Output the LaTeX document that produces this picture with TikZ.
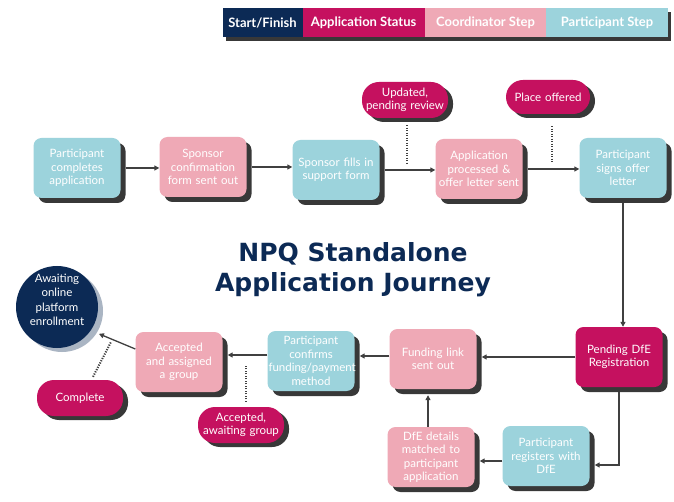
\documentclass[tikz,border=0pt]{standalone}
\usepackage{fontspec}
\setmainfont{Lato}
\newfontfamily\titlefont{DejaVu Sans}
\usetikzlibrary{arrows.meta,shadows,calc}
\definecolor{navy}{HTML}{0C2A55}
\definecolor{mag}{HTML}{C5115F}
\definecolor{pinkc}{HTML}{EFA9B6}
\definecolor{bluec}{HTML}{9CD3DC}
\definecolor{shadowc}{HTML}{383838}
\definecolor{circsh}{HTML}{AAB5C3}
\definecolor{linec}{HTML}{404040}
\begin{document}
\begin{tikzpicture}[x=1pt,y=-1pt,
  box/.style={rounded corners=8pt, minimum width=87pt, minimum height=60pt, text width=85pt,
    align=center, text=white, font=\fontsize{11.5}{13.5}\selectfont, inner sep=0pt,
    drop shadow={shadow xshift=5pt, shadow yshift=-5pt, fill=shadowc, opacity=1}},
  pblue/.style={box, fill=bluec},
  ppink/.style={box, fill=pinkc},
  pmag/.style={box, fill=mag},
  pill/.style={rounded corners=17pt, fill=mag, minimum width=86pt, minimum height=36pt, text width=84pt,
    align=center, text=white, font=\fontsize{11.5}{13.5}\selectfont, inner sep=0pt,
    drop shadow={shadow xshift=5pt, shadow yshift=-4pt, fill=shadowc, opacity=1}},
  legend/.style={minimum height=29pt, inner sep=0pt, text=white, font=\fontsize{13}{15}\selectfont\bfseries},
  arr/.style={draw=linec, line width=1.3pt, -{Triangle[length=5pt,width=5pt]}},
  dots/.style={draw=linec, line width=2pt, dash pattern=on 1.2pt off 1.3pt},
]
\useasboundingbox (0,0) rectangle (674,502);
\fill[white] (0,0) rectangle (674,502);

% legend
\fill[shadowc] (226,12) rectangle (671,41);
\node[legend, fill=navy, minimum width=80pt] (l1) at (262.5,22.5) {Start/Finish};
\node[legend, fill=mag, minimum width=122pt] (l2) at (363.5,22.5) {Application Status};
\node[legend, fill=pinkc, minimum width=122pt] (l3) at (485.5,22.5) {Coordinator Step};
\node[legend, fill=bluec, minimum width=122pt] (l4) at (607,22.5) {Participant Step};

% top row
\node[pblue] (b1) at (77,168) {Participant\\completes\\application};
\node[ppink] (b2) at (203,167) {Sponsor\\confirmation\\form sent out};
\node[pblue] (b3) at (336,170) {Sponsor fills in\\support form};
\node[ppink] (b4) at (479,169) {Application\\processed \&\\offer letter sent};
\node[pblue] (b5) at (623,168) {Participant\\signs offer\\letter};

\node[pill] (s1) at (405,100) {Updated,\\pending review};
\node[pill, minimum width=83pt, minimum height=34pt] (s2) at (548,97) {Place offered};

% title
\node[font=\titlefont\bfseries\fontsize{25}{30}\selectfont, text=navy, align=center] (title) at (353,270)
  {NPQ Standalone\\Application Journey};

% middle row
\node[pmag] (pend) at (619,357) {Pending DfE\\Registration};
\node[ppink] (fund) at (433,359) {Funding link\\sent out};
\node[pblue] (conf) at (311,361) {Participant\\confirms\\funding/payment\\method};
\node[ppink] (acc) at (179,362) {Accepted\\and assigned\\a group};
\node[circle, fill=navy, minimum size=82pt, inner sep=0pt, align=center, text=white,
  font=\fontsize{11.5}{14.5}\selectfont,
  drop shadow={shadow xshift=5pt, shadow yshift=-4pt, fill=circsh, opacity=1}] (circ) at (57,307) {};
\node[text=white, align=center, font=\fontsize{11.5}{14.5}\selectfont, inner sep=0pt] (circt) at (57,300)
  {Awaiting\\online\\platform\\enrollment};
\node[pill] (comp) at (80,398) {Complete};
\node[pill] (await) at (241,425) {Accepted,\\awaiting group};

% bottom row
\node[pblue] (reg) at (546,456) {Participant\\registers with\\DfE};
\node[ppink] (dfe) at (431,457) {DfE details\\matched to\\participant\\application};

% arrows top
\draw[arr] ([xshift=5pt]b1.east) -- (b2.west |- b1.east);
\draw[arr] ([xshift=5pt]b2.east) -- (b3.west |- b2.east);
\draw[arr] ([xshift=5pt]b3.east) -- (b4.west |- b3.east);
\draw[arr] ([xshift=5pt]b4.east) -- (b5.west |- b4.east);
\draw[arr] ([yshift=-5pt]b5.south) -- (pend.north -| b5.south);

% arrows bottom
\draw[arr] ([yshift=-5pt]pend.south) |- ([xshift=5pt,yshift=-9pt]reg.east);
\draw[arr] ([yshift=-5pt]reg.west) -- ([xshift=5pt,yshift=-4pt]dfe.east);
\draw[arr] ([xshift=-3pt]dfe.north) -- ([xshift=-5pt,yshift=-6pt]fund.south);
\draw[arr] (pend.west) -- ([xshift=5pt,yshift=2pt]fund.east);
\draw[arr] ([yshift=3pt]fund.west) -- ([xshift=5pt,yshift=5pt]conf.east);
\draw[arr] ([yshift=6pt]conf.west) -- ([xshift=5pt,yshift=7pt]acc.east);
\draw[arr] ([yshift=13pt]acc.west) -- ([xshift=7pt,yshift=-5pt]circ.-32);

% dotted status connectors
\coordinate (d1) at (407,163);
\coordinate (d2) at (552,163);
\coordinate (d3) at (111,342);
\coordinate (d4) at (246,365);
\draw[dots] ([xshift=2pt,yshift=-7pt]s1.south) -- (d1);
\draw[dots] ([xshift=4pt,yshift=-12pt]s2.south) -- (d2);
\draw[dots] ([xshift=13pt,yshift=3pt]comp.north) -- (d3);
\draw[dots] ([xshift=5pt,yshift=5pt]await.north) -- (d4);
\end{tikzpicture}
\end{document}
